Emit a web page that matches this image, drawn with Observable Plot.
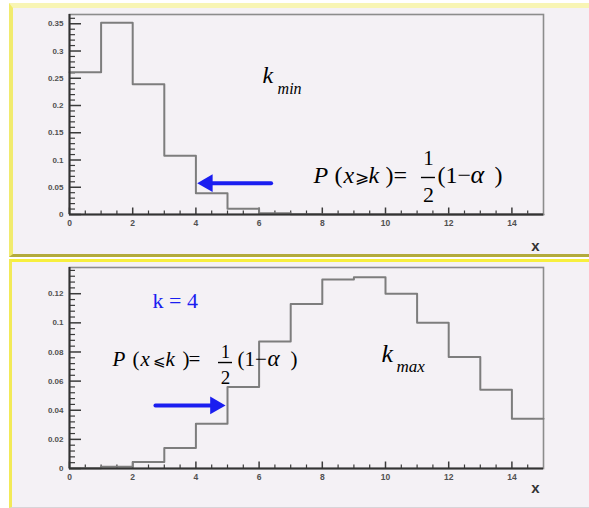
<!DOCTYPE html>
<html>
<head>
<meta charset="utf-8">
<script src="https://cdn.jsdelivr.net/npm/d3@7"></script>
<script src="https://cdn.jsdelivr.net/npm/@observablehq/plot@0.6"></script>
<style>
  html, body { margin: 0; padding: 0; background: #fff; }
  #page { position: relative; width: 589px; height: 508px; overflow: hidden; }
  .panel { position: absolute; left: 9px; width: 580px; background: #f4f1f5; box-sizing: border-box; }
  #p1 { top: 3px; height: 254px; border-top: 5px solid #f8f5b4; border-left: 4px solid #f1eb6e; border-bottom: 3px solid #b3ab3c; }
  #p2 { top: 259px; height: 249px; border-top: 3px solid #f7ef3e; border-left: 3px solid #f2ea58; border-bottom: 1px solid #d8d4d8; }
  .chart { position: absolute; left: 0; width: 589px; }
  #c1 { top: 0; }
  #c2 { top: 258px; }
</style>
</head>
<body>
<div id="page">
  <div class="panel" id="p1"></div>
  <div class="panel" id="p2"></div>
  <div class="chart" id="c1"></div>
  <div class="chart" id="c2"></div>
</div>
<script>
// Histogram bins (lower edges, unit width) and the bin contents of both distributions
const binStart = [0, 1, 2, 3, 4, 5, 6, 7, 8, 9, 10, 11, 12, 13, 14];
const binEnd = 15;
const probLow  = [0.261, 0.352, 0.239, 0.108, 0.039, 0.0104, 0.0025, 0.0005, 0.0001, 0, 0, 0, 0, 0, 0];
const probHigh = [0.0002, 0.0012, 0.0045, 0.0141, 0.0308, 0.0559, 0.0872, 0.113, 0.1297, 0.1313, 0.1199, 0.1, 0.0765, 0.0541, 0.0342];

// Axis ticks
const xTicks = [0, 2, 4, 6, 8, 10, 12, 14];
const yTicksLow = [0, 0.05, 0.1, 0.15, 0.2, 0.25, 0.3, 0.35];
const yTicksHigh = [0, 0.02, 0.04, 0.06, 0.08, 0.1, 0.12];

const SERIF = "'Liberation Serif', 'DejaVu Serif', serif";
const SANS = "'Liberation Sans', 'DejaVu Sans', sans-serif";
const BLUE = "#1a1ef0";
const W = 589, ML = 69, MR = 46;
const innerW = W - ML - MR;
const kx = binEnd / innerW; // x data units per pixel

function steps(probs) {
  return binStart.map((x, i) => ({x, p: probs[i]})).concat([{x: binEnd, p: probs[probs.length - 1]}]);
}

function minor(step, max, majors) {
  const n = Math.floor(max / step + 1e-9);
  return d3.range(0, n + 1).map(i => +(i * step).toFixed(5))
    .filter(v => !majors.some(m => Math.abs(m - v) < 1e-9));
}

// One text piece anchored in data coordinates, shifted in pixels
function piece(x, y, t, dx, dy, o = {}) {
  return Plot.text([t], {
    x: [x], y: [y], text: d => d, dx, dy,
    lineAnchor: "bottom", textAnchor: o.anchor || "start",
    fontFamily: SERIF, fontSize: o.size || 22,
    fontStyle: o.italic ? "italic" : "normal",
    fill: o.fill || "#000"
  });
}

// P(...) = 1/2 (1 − α) built from its glyph groups; ky = y data units per pixel
function formula(x, y, ky, rel, p) {
  const s = p.size;
  return [
    piece(x, y, "P", 0, 0, {italic: true, size: s}),
    piece(x, y, "(", p.open, 0, {size: s}),
    piece(x, y, "x", p.x, 0, {italic: true, size: s}),
    piece(x, y, rel, p.rel, 0, {size: p.relSize}),
    piece(x, y, "k", p.k, 0, {italic: true, size: s}),
    piece(x, y, ")", p.close, 0, {size: s}),
    piece(x, y, "=", p.eq, 0, {size: s}),
    piece(x, y, "1", p.frac, p.num, {anchor: "middle", size: s - 3}),
    Plot.ruleY([y + p.bar * ky], {x1: [x + (p.frac - 7) * kx], x2: [x + (p.frac + 7) * kx], stroke: "#000", strokeWidth: 1.4}),
    piece(x, y, "2", p.frac, p.den, {anchor: "middle", size: s - 2}),
    piece(x, y, "(1−", p.open2, 0, {size: s}),
    piece(x, y, "α", p.alpha, 0, {italic: true, size: s + 2}),
    piece(x, y, ")", p.close2, 0, {size: s})
  ];
}

function arrow(x1, x2, y, dir) {
  return [
    Plot.arrow([0], {x1: [x1], x2: [x2], y1: [y], y2: [y], stroke: BLUE, strokeWidth: 4, headLength: 0, insetEnd: 10}),
    Plot.dot([0], {x: [x2], y: [y], symbol: "triangle", r: 6.6, rotate: dir < 0 ? -90 : 90,
      dx: dir < 0 ? 10.3 : -10.3, fill: BLUE, stroke: "none"})
  ];
}

function histPanel({height, marginTop, marginBottom, yMax, probs, yTicks, yMinorStep, xLabelDy, notes}) {
  const innerH = height - marginTop - marginBottom;
  const tickStyle = {stroke: "#3b3b3b"};
  return Plot.plot({
    width: W, height, marginLeft: ML, marginRight: MR, marginTop, marginBottom,
    style: {background: "transparent", overflow: "visible"},
    x: {domain: [0, binEnd]},
    y: {domain: [0, yMax]},
    marks: [
      Plot.frame({stroke: "#8c8c8c", strokeWidth: 1.6}),
      Plot.tickY(minor(yMinorStep, yMax, yTicks), {y: d => d, insetRight: innerW - 6, strokeWidth: 1.2, ...tickStyle}),
      Plot.tickY(yTicks, {y: d => d, insetRight: innerW - 12, strokeWidth: 1.5, ...tickStyle}),
      Plot.tickX(minor(0.5, binEnd - 0.5, xTicks), {x: d => d, insetTop: innerH - 3.5, strokeWidth: 1.2, ...tickStyle}),
      Plot.tickX(xTicks, {x: d => d, insetTop: innerH - 6.5, strokeWidth: 1.5, ...tickStyle}),
      Plot.line(steps(probs), {x: "x", y: "p", curve: "step-after", stroke: "#7d7d7d", strokeWidth: 2}),
      Plot.ruleX([0], {stroke: "#333", strokeWidth: 2}),
      Plot.ruleY([0], {stroke: "#333", strokeWidth: 2}),
      Plot.axisY({ticks: yTicks, tickSize: 0, tickPadding: 6, tickFormat: d => String(d), label: null,
        fontSize: 8, fontWeight: "bold", fontFamily: SANS, color: "#505050"}),
      Plot.axisX({ticks: xTicks, tickSize: 0, tickPadding: 5, tickFormat: d => String(d), label: null,
        fontSize: 8.5, fontWeight: "bold", fontFamily: SANS, color: "#505050"}),
      Plot.text(["x"], {frameAnchor: "bottom-right", dx: -8, dy: xLabelDy, textAnchor: "middle", lineAnchor: "middle",
        fontSize: 15, fontWeight: "bold", fontFamily: SANS, fill: "#333"}),
      ...notes(yMax / innerH)
    ]
  });
}

// Upper panel: lower limit
document.getElementById("c1").append(histPanel({
  height: 256, marginTop: 14, marginBottom: 42, yMax: 0.367,
  probs: probLow, yTicks: yTicksLow, yMinorStep: 0.01, xLabelDy: 32,
  notes: ky => [
    piece(6.11, 0.2404, "k", 0, 0, {italic: true, size: 24}),
    piece(6.11, 0.2404, "min", 15, 11, {italic: true, size: 16}),
    ...formula(7.72, 0.0569, ky, "⩾", {size: 24, relSize: 17, open: 21, x: 30, rel: 42, k: 55, close: 72, eq: 80,
      frac: 115, num: -18, bar: 6, den: 19, open2: 124, alpha: 157, close2: 181}),
    ...arrow(6.38, 4.04, 0.0574, -1)
  ]
}));

// Lower panel: upper limit
document.getElementById("c2").append(histPanel({
  height: 249, marginTop: 9, marginBottom: 39, yMax: 0.138,
  probs: probHigh, yTicks: yTicksHigh, yMinorStep: 0.004, xLabelDy: 20,
  notes: ky => [
    piece(2.63, 0.1099, "k = 4", 0, 0, {size: 22, fill: BLUE}),
    piece(9.87, 0.0728, "k", 0, 0, {italic: true, size: 26}),
    piece(9.87, 0.0728, "max", 15, 10, {italic: true, size: 17}),
    ...formula(1.36, 0.0707, ky, "⩽", {size: 21, relSize: 15, open: 20, x: 28, rel: 41, k: 53, close: 70, eq: 76,
      frac: 113, num: -8, bar: 3, den: 18, open2: 125, alpha: 155, close2: 178}),
    ...arrow(2.72, 4.94, 0.0433, 1)
  ]
}));
</script>
</body>
</html>
